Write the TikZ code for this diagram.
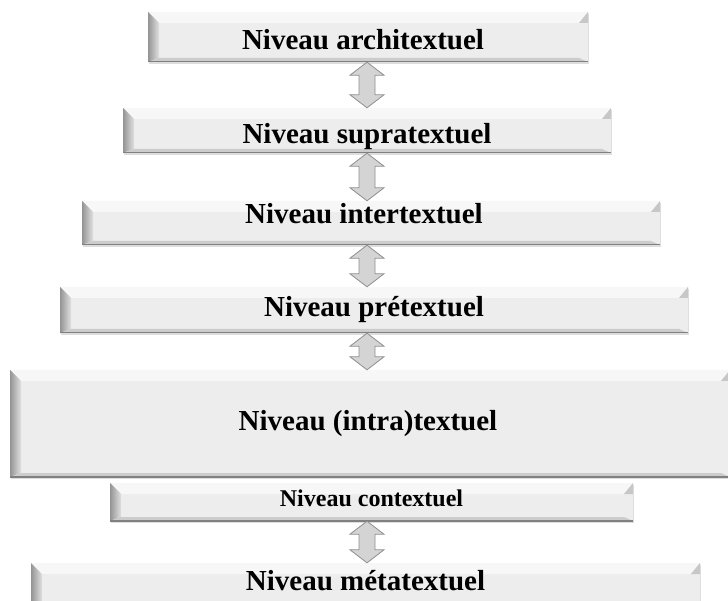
\documentclass[tikz,border=0pt]{standalone}
\usepackage{fontspec}
\setmainfont{Liberation Serif}
\usetikzlibrary{calc,shadows}
\definecolor{face}{HTML}{EDEDED}
\definecolor{arrowfill}{HTML}{D4D4D4}
\definecolor{arrowline}{HTML}{8E8E8E}

\begin{document}
\begin{tikzpicture}[x=1pt,y=-1pt,
    niveau/.style={draw=none, inner sep=0pt, fill=face,
      drop shadow={shadow xshift=0.5pt, shadow yshift=-2pt, fill=black!22, opacity=.6},
      path picture={
        \coordinate (sw) at (path picture bounding box.south west);
        \coordinate (ne) at (path picture bounding box.north east);
        % bevel facets
        \fill[black!3] (sw|-ne) -- (ne) -- ($(ne)+(-9pt,-11pt)$) -- ($(sw|-ne)+(11pt,-11pt)$) -- cycle;
        \shade[left color=black!42, right color=black!12] (sw|-ne) -- ($(sw|-ne)+(11pt,-11pt)$) -- ($(sw)+(11pt,4pt)$) -- (sw) -- cycle;
        \fill[black!7] (ne) -- (ne|-sw) -- ($(ne|-sw)+(-9pt,4pt)$) -- ($(ne)+(-9pt,-11pt)$) -- cycle;
        \fill[black!22] (ne) -- ($(ne)+(-9pt,-11pt)$) -- ($(ne)+(0pt,-11pt)$) -- cycle;
        \fill[black!20] (sw) -- (ne|-sw) -- ($(ne|-sw)+(-9pt,4pt)$) -- ($(sw)+(11pt,4pt)$) -- cycle;
        \draw[black!50, line width=1.2pt] (sw) -- (ne|-sw);
      }},
    txt/.style={font=\fontsize{29}{31}\selectfont\bfseries, inner sep=0pt},
    updown/.style={fill=arrowfill, draw=arrowline, line width=0.8pt, line join=miter}]

  \useasboundingbox (0,0) rectangle (728,601);

  \node[niveau, minimum width=440pt, minimum height=50pt,
    label={[txt, xshift=-5pt, yshift=-2.5pt]center:Niveau architextuel}] (b1) at (368,37) {};
  \node[niveau, minimum width=488pt, minimum height=45pt,
    label={[txt, yshift=-6.5pt]center:Niveau supratextuel}] (b2) at (367,130.5) {};
  \node[niveau, minimum width=578pt, minimum height=44pt,
    label={[txt, xshift=-7pt, yshift=9pt]center:Niveau intertextuel}] (b3) at (371,223) {};
  \node[niveau, minimum width=628pt, minimum height=46pt,
    label={[txt]center:Niveau prétextuel}] (b4) at (374,310) {};
  \node[niveau, minimum width=720pt, minimum height=107pt,
    label={[txt, xshift=-2pt]center:Niveau (intra)textuel}] (b5) at (370,423.5) {};
  \node[niveau, minimum width=523pt, minimum height=38pt,
    label={[txt, font=\fontsize{24}{26}\selectfont\bfseries, yshift=4pt]center:Niveau contextuel}] (b6) at (371.5,502) {};
  \node[niveau, minimum width=669pt, minimum height=44pt,
    label={[txt, yshift=4pt]center:Niveau métatextuel}] (b7) at (365.5,585) {};

  \coordinate (ax) at (367,0);
  \foreach \a/\b in {b1/b2,b2/b3,b3/b4,b4/b5,b6/b7} {
    \draw[updown] (\a.south -| ax) -- ++(17,13) -- ++(-9,0)
      -- ($(\b.north -| ax)+(8,-13)$) -- ++(9,0) -- (\b.north -| ax)
      -- ++(-17,-13) -- ++(9,0) -- ($(\a.south -| ax)+(-8,13)$) -- ++(-9,0) -- cycle;
  }
\end{tikzpicture}
\end{document}
